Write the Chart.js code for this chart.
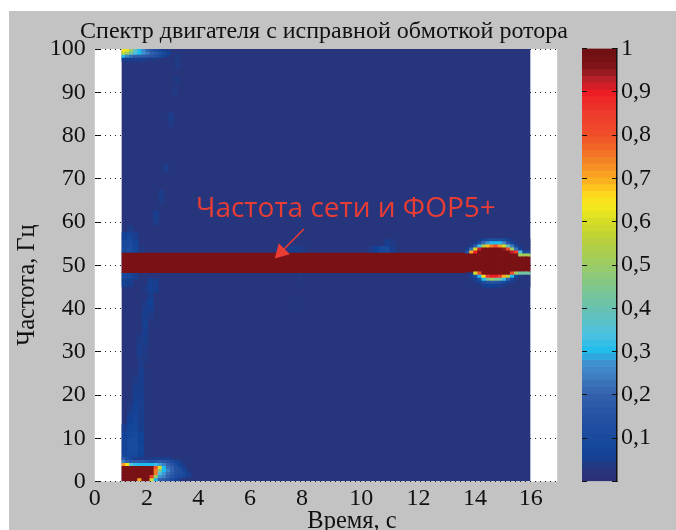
<!DOCTYPE html>
<html>
<head>
<meta charset="utf-8">
<style>
    html, body { margin: 0; padding: 0; background: #fff; overflow: hidden; }
    #panel { position: absolute; left: 9px; top: 11px; width: 667px; height: 519px; background: #c2c3c2; }
    canvas { filter: blur(0.5px); }
    #mainChart { position: absolute; left: 0; top: 0; }
    #barChart { position: absolute; left: 570px; top: 0; }
</style>
</head>
<body>
<div id="panel"></div>
<canvas id="mainChart" width="648" height="530"></canvas>
<canvas id="barChart" width="106" height="530"></canvas>
<script src="https://cdn.jsdelivr.net/npm/chart.js@4"></script>
<script>
const titleText = 'Спектр двигателя с исправной обмоткой ротора';
const xAxisText = 'Время, с';
const yAxisText = 'Частота, Гц';
const noteText = 'Частота сети и ФОР5+';

// the printed time labels do not sit quite where the scale puts them
const xTickLabels = ['0', '2', '4', '6', '8', '10', '12', '14', '16'];
const xTickPlaces = [0, 1.92, 3.8, 5.71, 7.62, 9.8, 11.9, 13.98, 16.03];
const yTickStep = 10;
const barTickStep = 0.1;

// colour scale
const colorLevels = [0, 0.03, 0.06, 0.1, 0.15, 0.2, 0.25, 0.28, 0.3, 0.34, 0.4, 0.45, 0.5, 0.55, 0.6, 0.63, 0.66, 0.7, 0.75, 0.8, 0.85, 0.9, 0.93, 0.95, 0.965, 1];
const colorHexes = ['#2b2f78', '#27367c', '#124296', '#1a4a9c', '#2551a3', '#3260ad', '#3f82c4', '#3f97d3', '#1ebcee', '#4cc1e0', '#68c1b0', '#7ec68c', '#9bcb65', '#b5cf3f', '#d6dc25', '#eee81e', '#fedd1c', '#fbaa20', '#f27a25', '#ef4e2a', '#ef3b2e', '#ed1c24', '#b7202a', '#8f1a1f', '#7a1215', '#6f1012'];
const barBandCount = 64;

// whole field and the mains frequency band
const fieldTimes = [1, 16];
const fieldFreqs = [0, 100];
const fieldValue = 0.03;
const bandTimes = [1, 13.62];
const bandFreqs = [48.3, 52.8];
const bandValue = 0.965;

// patch around 15 s, 50 Hz
const blobTimes = [13.7, 13.85, 14, 14.15, 14.3, 14.45, 14.6, 14.75, 14.9, 15.05, 15.2, 15.35, 15.5, 15.65, 15.8, 15.925];
const blobFreqs = [55.8, 55.1, 54.4, 53.7, 53, 52.3, 51.6, 50.9, 50.2, 49.5, 48.8, 48.1, 47.4, 46.7, 46, 45.3];
const blobValues = [
    [.03, .03, .03, .04, .08, .1, .12, .12, .12, .1, .07, .04, .03, .03, .03, .03],
    [.03, .03, .05, .12, .22, .28, .3, .3, .3, .26, .16, .08, .04, .03, .03, .03],
    [.03, .05, .18, .33, .55, .68, .75, .8, .72, .6, .4, .24, .1, .04, .03, .03],
    [.05, .22, .6, .92, .965, .965, .965, .965, .965, .95, .8, .5, .22, .06, .03, .03],
    [.15, .7, .9, .965, .965, .965, .965, .965, .965, .965, .965, .92, .85, .35, .1, .1],
    [.965, .965, .965, .965, .965, .965, .965, .965, .965, .965, .965, .965, .965, .52, .52, .52],
    [.965, .965, .965, .965, .965, .965, .965, .965, .965, .965, .965, .965, .965, .965, .965, .965],
    [.965, .965, .965, .965, .965, .965, .965, .965, .965, .965, .965, .965, .965, .965, .965, .965],
    [.965, .965, .965, .965, .965, .965, .965, .965, .965, .965, .965, .965, .965, .965, .965, .965],
    [.965, .965, .965, .965, .965, .965, .965, .965, .965, .965, .965, .965, .965, .965, .965, .965],
    [.965, .965, .965, .965, .965, .965, .965, .965, .965, .965, .965, .965, .965, .965, .965, .965],
    [null, null, .6, .8, .965, .965, .965, .965, .965, .965, .965, .8, .5, .42, .42, .42],
    [.03, .06, .12, .3, .65, .85, .9, .9, .85, .7, .55, .3, .08, .04, .03, .03],
    [.03, .04, .06, .12, .3, .42, .5, .45, .42, .32, .2, .08, .04, .03, .03, .03],
    [.03, .03, .04, .06, .12, .14, .16, .16, .14, .1, .06, .04, .03, .03, .03, .03],
    [.03, .03, .03, .03, .05, .06, .06, .06, .05, .04, .03, .03, .03, .03, .03, .03]
];

// patch at the lower left corner
const lowTimes = [1.075, 1.2, 1.35, 1.5, 1.65, 1.8, 1.95, 2.1, 2.25, 2.4, 2.55, 2.7, 2.85, 3, 3.15, 3.3, 3.45];
const lowFreqs = [5.25, 4.55, 3.85, 3.15, 2.45, 1.75, 1.05, 0.35];
const lowValues = [
    [.18, .12, .08, .05, .04, .04, .04, .04, .05, .05, .05, .05, .04, .03, .03, .03, .03],
    [.25, .2, .18, .18, .18, .18, .16, .14, .16, .18, .16, .14, .1, .08, .05, .03, .03],
    [.72, .65, .35, .32, .3, .3, .3, .3, .32, .28, .25, .2, .16, .1, .06, .04, .03],
    [.965, .965, .965, .965, .965, .965, .965, .965, .8, .6, .3, .22, .2, .14, .1, .05, .03],
    [.965, .965, .965, .965, .965, .965, .965, .965, .75, .45, .3, .25, .2, .15, .12, .08, .04],
    [.965, .965, .965, .965, .965, .965, .965, .965, .75, .35, .28, .22, .18, .14, .12, .1, .05],
    [.965, .965, .965, .965, .965, .965, .965, .85, .5, .28, .25, .2, .16, .12, .1, .08, .05],
    [.965, .965, .965, .965, .7, .965, .965, .6, .3, .2, .18, .14, .1, .06, .04, .03, .03]
];

// patch at the upper left corner
const topTimes = [1.075, 1.2, 1.35, 1.5, 1.65, 1.8, 1.95, 2.1, 2.25, 2.4, 2.55, 2.7];
const topFreqs = [99.65, 98.95, 98.25, 97.55];
const topValues = [
    [.64, .62, .5, .38, .3, .26, .2, .16, .12, .08, .05, .04],
    [.58, .5, .42, .34, .3, .27, .24, .2, .18, .14, .1, .06],
    [.3, .26, .22, .2, .2, .18, .17, .16, .14, .1, .07, .04],
    [.05, .05, .05, .05, .05, .05, .04, .04, .04, .03, .03, .03]
];

// faint streaks and spots, one entry per cell
const faintTimes = [
    1.1, 1.3, 1.5, 1.7, 1.1, 1.3, 1.5, 1.7, 1.1, 1.3, 1.5, 1.7, 1.1, 1.3, 1.5, 1.7, 1.1, 1.3, 1.5, 1.7,
    1.3, 1.5, 1.7, 1.3, 1.5, 1.7, 1.3, 1.5, 1.7, 1.5, 1.7, 1.5, 1.7, 1.5, 1.7, 1.5, 1.7, 1.7, 1.7,
    1.65, 1.85, 1.65, 1.85, 1.65, 1.85, 1.65, 1.85, 1.85, 1.85, 1.85, 2.05, 1.85, 2.05, 1.85, 2.05, 2.05, 1.85, 2.05, 2.25, 2.05, 2.25,
    1.1, 1.3, 1.5, 1.1, 1.3,
    1.1, 1.3, 1.5, 1.7, 1.1, 1.3, 1.5, 1.1, 1.3, 1.5, 1.3,
    2.25, 2.25, 2.45, 2.45, 2.6, 2.8, 2.8, 2.95, 3, 3.05, 3.05,
    10.15, 10.35, 10.55, 10.75, 10.95, 10.75, 10.95,
    7.25, 7.45, 7.65, 7.5, 7.55, 7.4
];
const faintFreqs = [
    6.1, 6.1, 6.1, 6.1, 7.7, 7.7, 7.7, 7.7, 9.3, 9.3, 9.3, 9.3, 10.9, 10.9, 10.9, 10.9, 12.5, 12.5, 12.5, 12.5,
    14.1, 14.1, 14.1, 15.7, 15.7, 15.7, 17.3, 17.3, 17.3, 18.9, 18.9, 20.5, 20.5, 22.1, 22.1, 23.7, 23.7, 25.3, 26.9,
    28.5, 28.5, 30.1, 30.1, 31.7, 31.7, 33.3, 33.3, 34.9, 36.5, 38.1, 38.1, 39.7, 39.7, 41.3, 41.3, 42.9, 44.5, 44.5, 44.5, 46.1, 46.1,
    47.5, 47.5, 47.5, 45.9, 45.9,
    53.6, 53.6, 53.6, 53.6, 55.2, 55.2, 55.2, 56.8, 56.8, 56.8, 58.4,
    60.2, 61.8, 65, 66.6, 72.5, 82.8, 84.4, 90.3, 92.8, 96.4, 98,
    53.6, 53.6, 53.6, 53.6, 53.6, 55.2, 55.2,
    53.6, 53.6, 53.6, 60, 47.4, 41
];
const faintValues = [
    .08, .09, .09, .06, .07, .1, .1, .07, .07, .1, .1, .06, .06, .08, .09, .06, .05, .07, .08, .05,
    .06, .08, .05, .05, .07, .05, .04, .06, .05, .055, .05, .05, .05, .05, .05, .04, .05, .05, .045,
    .04, .04, .05, .04, .045, .045, .04, .05, .05, .055, .05, .04, .05, .05, .04, .06, .05, .04, .055, .05, .055, .05,
    .09, .08, .05, .055, .05,
    .1, .12, .08, .04, .09, .11, .07, .06, .08, .05, .045,
    .045, .05, .04, .045, .045, .04, .045, .04, .04, .04, .04,
    .04, .06, .09, .1, .05, .05, .04,
    .05, .05, .04, .035, .035, .035
];

// arrow of the note, from its tail to the middle of its head
const arrowTimes = [7.69, 6.85];
const arrowFreqs = [58.4, 53.06];
const noteTime = 3.72;
const noteFreq = 63.1;

const secondWidth = 27.2;
const noteRed = '#e93c34';

function hexToRgb(hex) {
    return [1, 3, 5].map(i => parseInt(hex.slice(i, i + 2), 16));
}

function colorFor(value) {
    let i = 0;
    while (i < colorLevels.length - 2 && value > colorLevels[i + 1]) i++;
    const part = Math.min(1, Math.max(0, (value - colorLevels[i]) / (colorLevels[i + 1] - colorLevels[i])));
    const a = hexToRgb(colorHexes[i]);
    const b = hexToRgb(colorHexes[i + 1]);
    return `rgb(${a.map((c, k) => Math.round(c + (b[k] - c) * part)).join(',')})`;
}

// one floating bar per cell, all of one dataset have the same width
function cellDataset(times, freqs, rows, cellSeconds, cellHertz, order) {
    const data = [];
    const colors = [];
    freqs.forEach((freq, r) => {
        times.forEach((time, c) => {
            const value = rows[r][c];
            if (value === null) return;
            data.push({ x: time, y: [freq - cellHertz / 2, freq + cellHertz / 2] });
            colors.push(colorFor(value));
        });
    });
    return { data, backgroundColor: colors, barThickness: cellSeconds * secondWidth, grouped: false, order };
}

function blockDataset(times, freqs, value, order) {
    return {
        data: [{ x: (times[0] + times[1]) / 2, y: freqs }],
        backgroundColor: colorFor(value),
        barThickness: (times[1] - times[0]) * secondWidth,
        grouped: false,
        order
    };
}

const faintCells = {
    data: faintTimes.map((time, i) => ({ x: time, y: [faintFreqs[i] - 0.8, faintFreqs[i] + 0.8] })),
    backgroundColor: faintValues.map(colorFor),
    barThickness: 0.2 * secondWidth,
    grouped: false,
    order: 3
};

const arrowLine = {
    type: 'line',
    data: arrowTimes.map((time, i) => ({ x: time, y: arrowFreqs[i] })),
    borderColor: noteRed,
    borderWidth: 1.5,
    backgroundColor: noteRed,
    pointStyle: 'triangle',
    pointRadius: [0, 9],
    pointBorderWidth: 0,
    pointRotation: 225,
    order: 0
};

const paperPlugin = {
    id: 'paper',
    beforeDraw(chart) {
        const { ctx, chartArea: a } = chart;
        ctx.save();
        ctx.fillStyle = '#fff';
        ctx.fillRect(a.left, a.top, a.right - a.left, a.bottom - a.top);
        ctx.restore();
    }
};

// axis captions sit off centre in the picture, so they are written here
const captionPlugin = {
    id: 'captions',
    afterDraw(chart) {
        const { ctx, scales } = chart;
        ctx.save();
        ctx.fillStyle = '#111';
        ctx.textAlign = 'center';
        ctx.textBaseline = 'alphabetic';
        ctx.font = '24.5px "Liberation Serif"';
        ctx.fillText(xAxisText, 352, 528);
        ctx.translate(34, 285);
        ctx.rotate(-Math.PI / 2);
        ctx.fillText(yAxisText, 0, 0);
        ctx.restore();

        ctx.save();
        ctx.fillStyle = noteRed;
        ctx.textAlign = 'left';
        ctx.textBaseline = 'middle';
        ctx.font = '28px "Open Sans"';
        ctx.fillText(noteText, scales.x.getPixelForValue(noteTime), scales.y.getPixelForValue(noteFreq));
        ctx.restore();
    }
};

new Chart(document.getElementById('mainChart'), {
    type: 'bar',
    data: {
        datasets: [
            arrowLine,
            cellDataset(blobTimes, blobFreqs, blobValues, 0.15, 0.7, 1),
            cellDataset(lowTimes, lowFreqs, lowValues, 0.15, 0.7, 1),
            cellDataset(topTimes, topFreqs, topValues, 0.15, 0.7, 1),
            blockDataset(bandTimes, bandFreqs, bandValue, 2),
            faintCells,
            blockDataset(fieldTimes, fieldFreqs, fieldValue, 4)
        ]
    },
    options: {
        responsive: false,
        animation: false,
        plugins: {
            legend: { display: false },
            tooltip: { enabled: false },
            title: {
                display: true,
                text: titleText,
                color: '#111',
                font: { family: 'Liberation Serif', size: 24, weight: 'normal' },
                padding: { top: 17.8, bottom: 2.4 }
            }
        },
        scales: {
            x: {
                type: 'linear',
                min: 0,
                max: 17,
                offset: false,
                afterFit(scale) { scale.height = 48.5; },
                afterBuildTicks(scale) { scale.ticks = xTickPlaces.map(value => ({ value })); },
                // only the line at 0 shows, as the dotted left frame
                grid: {
                    drawTicks: false,
                    color: ctx => (ctx.index === 0 ? '#222' : 'rgba(0,0,0,0)')
                },
                border: { display: false, dash: [1, 2] },
                ticks: {
                    color: '#111',
                    font: { family: 'Liberation Serif', size: 24 },
                    padding: 3,
                    autoSkip: false,
                    maxRotation: 0,
                    callback: (value, index) => xTickLabels[index]
                }
            },
            y: {
                type: 'linear',
                min: 0,
                max: 100,
                afterFit(scale) { scale.width = 94.8; },
                grid: { color: '#222', lineWidth: 1, tickLength: -6, tickColor: '#111', tickBorderDash: [], tickWidth: 1 },
                border: { display: false, dash: [1, 4] },
                ticks: {
                    stepSize: yTickStep,
                    color: '#111',
                    font: { family: 'Liberation Serif', size: 24 },
                    padding: 15
                }
            },
            // empty axis, it keeps the plot clear of the colour bar
            yGap: {
                type: 'linear',
                position: 'right',
                afterFit(scale) { scale.width = 90.8; },
                grid: { drawOnChartArea: false, drawTicks: false },
                border: { display: false },
                ticks: { display: false }
            }
        },
        elements: { bar: { borderWidth: 0 } }
    },
    plugins: [paperPlugin, captionPlugin]
});

// colour bar
const bandColors = [];
const bandData = [];
for (let k = 0; k < barBandCount; k++) {
    bandData.push({ x: 0, y: [k / barBandCount, (k + 1) / barBandCount] });
    bandColors.push(colorFor((k + 0.5) / barBandCount));
}

new Chart(document.getElementById('barChart'), {
    type: 'bar',
    data: {
        datasets: [{
            data: bandData,
            backgroundColor: bandColors,
            barThickness: 35,
            grouped: false
        }]
    },
    options: {
        responsive: false,
        animation: false,
        layout: { padding: { top: 48.5, bottom: 48.5 } },
        plugins: { legend: { display: false }, tooltip: { enabled: false } },
        scales: {
            x: { type: 'linear', min: -1, max: 1, display: false, offset: false },
            y: {
                type: 'linear',
                position: 'right',
                min: 0,
                max: 1,
                afterFit(scale) { scale.width = 59; },
                grid: { drawOnChartArea: false, tickLength: -5, tickColor: '#111', z: 1 },
                border: { display: true, color: '#111', width: 1.5, z: 1 },
                ticks: {
                    stepSize: barTickStep,
                    color: '#111',
                    font: { family: 'Liberation Serif', size: 24 },
                    padding: 9,
                    callback: value => (value === 0 ? '' : String(Math.round(value * 10) / 10).replace('.', ','))
                }
            },
            yLeft: {
                type: 'linear',
                position: 'left',
                min: 0,
                max: 1,
                afterFit(scale) { scale.width = 12; },
                grid: { drawOnChartArea: false, tickLength: -5, tickColor: '#111', z: 1 },
                border: { display: false },
                ticks: { stepSize: barTickStep, display: false }
            }
        }
    }
});
</script>
</body>
</html>
